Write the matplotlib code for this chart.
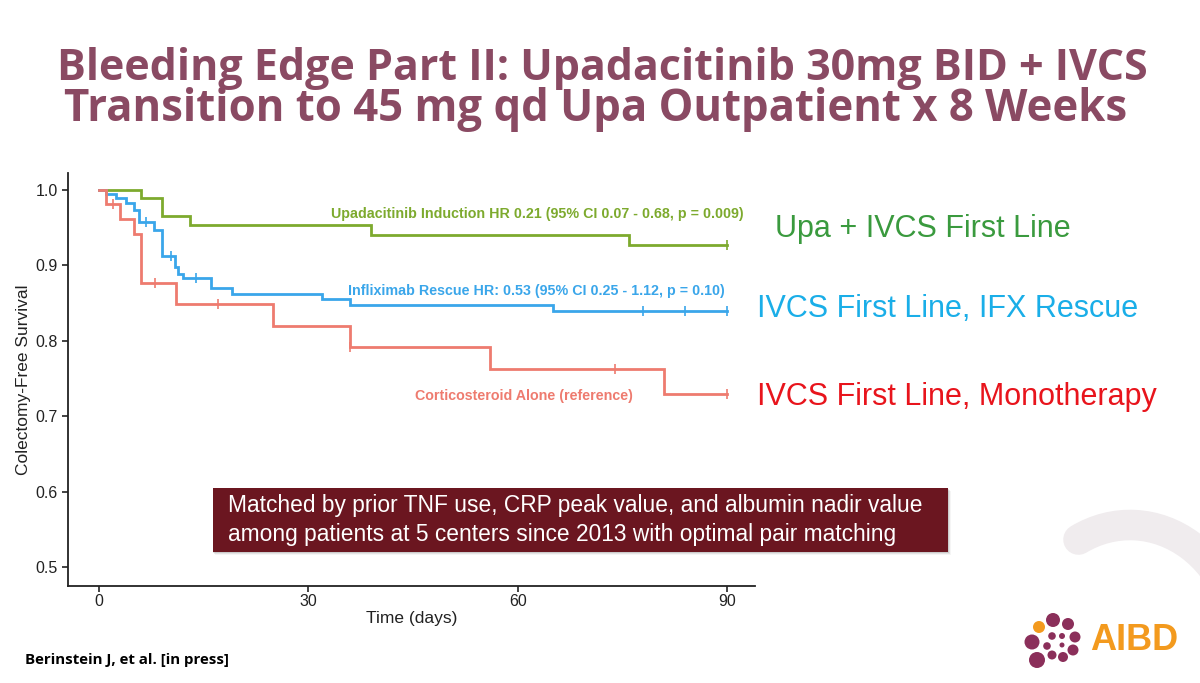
import numpy as np
import matplotlib
matplotlib.use("Agg")
import matplotlib.pyplot as plt
from matplotlib.patches import Rectangle, Circle, Arc

# ---------------- data ----------------
end_day = 90

upa_times = [0, 6, 9, 13, 39, 76]
upa_surv = [1.0, 0.989, 0.966, 0.954, 0.940, 0.927]
upa_censor = [90]

ifx_times = [0, 1, 2.5, 3.8, 5, 5.8, 7.9, 9, 10.9, 11.3, 12, 16, 19, 32, 36, 65]
ifx_surv = [1.0, 0.995, 0.989, 0.983, 0.973, 0.958, 0.947, 0.913, 0.898, 0.889,
            0.883, 0.870, 0.862, 0.855, 0.848, 0.840]
ifx_censor = [6.8, 10.3, 13.9, 78, 84, 90]

cs_times = [0, 1, 3, 5, 6, 11, 25, 36, 56, 81]
cs_surv = [1.0, 0.981, 0.962, 0.942, 0.876, 0.849, 0.820, 0.792, 0.763, 0.730]
cs_censor = [2, 8, 17, 36, 74, 90]

x_ticks = [0, 30, 60, 90]
y_ticks = [0.5, 0.6, 0.7, 0.8, 0.9, 1.0]

title_lines = ["Bleeding Edge Part II: Upadacitinib 30mg BID + IVCS",
               "Transition to 45 mg qd Upa Outpatient x 8 Weeks"]
curve_labels = ["Upadacitinib Induction HR 0.21 (95% CI 0.07 - 0.68, p = 0.009)",
                "Infliximab Rescue HR: 0.53 (95% CI 0.25 - 1.12, p = 0.10)",
                "Corticosteroid Alone (reference)"]
side_labels = ["Upa + IVCS First Line", "IVCS First Line, IFX Rescue",
               "IVCS First Line, Monotherapy"]
box_text = ("Matched by prior TNF use, CRP peak value, and albumin nadir value\n"
            "among patients at 5 centers since 2013 with optimal pair matching")
footer = "Berinstein J, et al. [in press]"

# ---------------- style ----------------
W, H = 1200, 683
fig = plt.figure(figsize=(W / 100, H / 100), dpi=100)
fig.patch.set_facecolor("white")

c_green = "#7DAA2E"
c_blue = "#3AA6EA"
c_red = "#EE7B6F"
sans = ["Liberation Sans", "DejaVu Sans"]

def fx(px):
    return px / W

def fy(py):
    return 1 - py / H

# background decoration (pale arc), y axis pointing up in pixels
bg = fig.add_axes([0, 0, 1, 1], zorder=0)
bg.set_xlim(0, W)
bg.set_ylim(0, H)
bg.axis("off")
bg.add_patch(Arc((1130, H - 650), 220, 250, theta1=-5, theta2=115,
                 color="#F0ECEE", lw=22, capstyle="round"))

# title
title_col = "#8A4A63"
fig.text(0.502, fy(80), title_lines[0], ha="center", va="baseline", fontsize=31,
         fontweight="bold", color=title_col, family=["Open Sans", "DejaVu Sans"])
fig.text(0.496, fy(121), title_lines[1], ha="center", va="baseline", fontsize=31.5,
         fontweight="bold", color=title_col, family=["Open Sans", "DejaVu Sans"])

# main axes
ax = fig.add_axes([fx(68), fy(586), fx(755) - fx(68), fy(173) - fy(586)], zorder=1)
ax.set_facecolor("none")
ax.set_xlim(-4.44, 94.0)
ax.set_ylim(0.4748, 1.0225)

def km(ax, times, surv, cens, color):
    t = np.append(times, end_day)
    s = np.append(surv, surv[-1])
    ax.step(t, s, where="post", color=color, lw=2.0, solid_joinstyle="miter")
    idx = np.searchsorted(np.array(times), np.array(cens), side="right") - 1
    cs = np.array(surv)[idx]
    ax.plot(cens, cs, ls="none", marker="|", ms=7, mew=1.2, color=color)

km(ax, upa_times, upa_surv, upa_censor, c_green)
km(ax, ifx_times, ifx_surv, ifx_censor, c_blue)
km(ax, cs_times, cs_surv, cs_censor, c_red)

ax.text(92.3, 0.968, curve_labels[0], ha="right", va="center", fontsize=10.3,
        fontweight="bold", color=c_green, family=sans)
ax.text(89.6, 0.866, curve_labels[1], ha="right", va="center", fontsize=10.3,
        fontweight="bold", color=c_blue, family=sans)
ax.text(76.5, 0.727, curve_labels[2], ha="right", va="center", fontsize=10.3,
        fontweight="bold", color=c_red, family=sans)

for sp in ["top", "right"]:
    ax.spines[sp].set_visible(False)
for sp in ["left", "bottom"]:
    ax.spines[sp].set_linewidth(1.3)
    ax.spines[sp].set_color("#222222")
ax.set_xticks(x_ticks)
ax.set_yticks(y_ticks)
ax.set_xticklabels([str(v) for v in x_ticks])
ax.set_yticklabels([f"{v:.1f}" for v in y_ticks])
ax.tick_params(axis="both", direction="out", length=4, width=1.2, color="#222222",
               labelsize=11.5, labelcolor="#222222")
ax.tick_params(axis="x", pad=2)
for lab in ax.get_xticklabels() + ax.get_yticklabels():
    lab.set_family(sans)
ax.set_xlabel("Time (days)", fontsize=12.5, family=sans, color="#222222", labelpad=1)
ax.set_ylabel("Colectomy-Free Survival", fontsize=12.5, family=sans, color="#222222",
              labelpad=3)

# side labels
fig.text(fx(775), fy(229), side_labels[0], ha="left", va="center", fontsize=22,
         color="#3A9A3E", family=sans)
fig.text(fx(757), fy(309), side_labels[1], ha="left", va="center", fontsize=22,
         color="#1AAEE8", family=sans)
fig.text(fx(757), fy(397), side_labels[2], ha="left", va="center", fontsize=22,
         color="#E8141C", family=sans)

# overlay in pixel coords (y down)
ov = fig.add_axes([0, 0, 1, 1], zorder=3)
ov.set_xlim(0, W)
ov.set_ylim(H, 0)
ov.axis("off")
for k, a in enumerate([0.10, 0.07, 0.04]):
    d = k + 1
    ov.add_patch(Rectangle((213 - 1 + d, 488 + d), 735 + 1, 64, facecolor="black",
                           alpha=a, edgecolor="none"))
ov.add_patch(Rectangle((213, 488), 735, 64, facecolor="#6B1620", edgecolor="none"))
ov.text(228, 520, box_text, ha="left", va="center", fontsize=16.4, color="white",
        family=sans, linespacing=1.38)

# footer
ov.text(25, 660, footer, ha="left", va="center", fontsize=10.8,
        fontweight="bold", color="black", family=["Open Sans", "DejaVu Sans"])

# logo
ov.text(1090, 641, "AIBD", ha="left", va="center", fontsize=26, fontweight="bold",
        color="#F39A1E", family=sans)
dots = [(1039, 627, 6, "#F39A1E"), (1053, 620, 7, "#8B2F5A"), (1068, 624, 6, "#8B2F5A"),
        (1075, 637, 5.5, "#8B2F5A"), (1073, 650, 5.5, "#8B2F5A"), (1063, 657, 5, "#8B2F5A"),
        (1052, 655, 4.5, "#8B2F5A"), (1037, 660, 8, "#8B2F5A"), (1032, 642, 7.5, "#8B2F5A"),
        (1047, 646, 3.8, "#8B2F5A"), (1052, 636, 3.8, "#8B2F5A"), (1062, 636, 3, "#8B2F5A"),
        (1062, 645, 2.5, "#8B2F5A")]
for (x, y, r, c) in dots:
    ov.add_patch(Circle((x, y), r, facecolor=c, edgecolor="none"))

fig.savefig("out.png", dpi=100)
